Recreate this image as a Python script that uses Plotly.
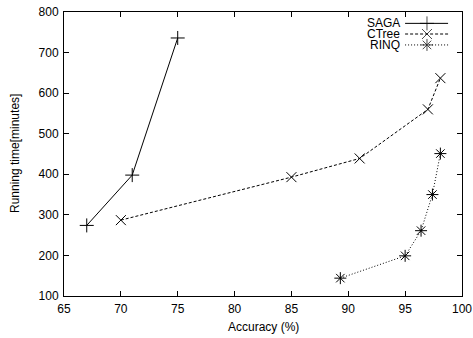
import plotly.graph_objects as go

# Data
saga_x = [67, 71, 75]
saga_y = [274, 398, 736]
ctree_x = [70, 85, 91, 97, 98.1]
ctree_y = [287, 393, 439, 560, 637]
rinq_x = [89.3, 95, 96.4, 97.4, 98.1]
rinq_y = [144, 199, 261, 350, 451]

series_names = ["SAGA", "CTree", "RINQ"]
x_ticks = [65, 70, 75, 80, 85, 90, 95, 100]
y_ticks = [100, 200, 300, 400, 500, 600, 700, 800]

FONT = "Liberation Sans, Arial, Helvetica, sans-serif"
FS = 12
styles = [
    dict(dash="solid", symbol="cross-thin", size=10),
    dict(dash="3px,2px", symbol="x-thin", size=10),
    dict(dash="1px,2px", symbol="asterisk", size=10),
]

fig = go.Figure()
for (xs, ys), name, st in zip([(saga_x, saga_y), (ctree_x, ctree_y), (rinq_x, rinq_y)], series_names, styles):
    fig.add_trace(go.Scatter(
        x=xs, y=ys, name=name, mode="lines+markers",
        line=dict(color="black", width=1, dash=st["dash"]),
        marker=dict(symbol=st["symbol"], size=st["size"], color="black",
                    line=dict(color="black", width=1)),
        showlegend=False,
    ))

# Gnuplot-style key: text on the left, sample on the right
key_y = [0.960, 0.9225, 0.884]
for name, st, ky in zip(series_names, styles, key_y):
    fig.add_trace(go.Scatter(
        x=[0.857, 0.912, 0.965], y=[ky, ky, ky], xaxis="x2", yaxis="y2",
        mode="lines+markers", showlegend=False, hoverinfo="skip",
        line=dict(color="black", width=1, dash=st["dash"]),
        marker=dict(symbol=st["symbol"], size=[0, st["size"], 0], color="black",
                    line=dict(color="black", width=1)),
    ))
    fig.add_annotation(x=0.849, y=ky, xref="x2", yref="y2", text=name,
                       showarrow=False, xanchor="right", yanchor="middle",
                       font=dict(family=FONT, size=FS, color="black"))

# Axis titles
fig.add_annotation(x=0.5, y=0, xref="paper", yref="paper", yshift=-31,
                   text="Accuracy (%)", showarrow=False, xanchor="center", yanchor="middle",
                   font=dict(family=FONT, size=FS, color="black"))
fig.add_annotation(x=0, y=0.5, xref="paper", yref="paper", xshift=-49,
                   text="Running time[minutes]", textangle=-90, showarrow=False,
                   xanchor="center", yanchor="middle",
                   font=dict(family=FONT, size=FS, color="black"))

axis_common = dict(
    showline=True, linecolor="black", linewidth=1, mirror="ticks",
    ticks="inside", ticklen=5, tickcolor="black", tickwidth=1,
    showgrid=False, zeroline=False, automargin=False, ticklabeloverflow="allow",
    tickfont=dict(family=FONT, size=FS, color="black"),
)

fig.update_layout(
    width=473, height=338,
    margin=dict(l=64, r=11, t=12, b=42),
    paper_bgcolor="white", plot_bgcolor="white",
    font=dict(family=FONT, size=FS, color="black"),
    hovermode=False,
    xaxis=dict(range=[65, 100], tickvals=x_ticks, ticklabelstandoff=2, **axis_common),
    yaxis=dict(range=[100, 800], tickvals=y_ticks, ticklabelstandoff=2, **axis_common),
    xaxis2=dict(range=[0, 1], overlaying="x", visible=False, fixedrange=True),
    yaxis2=dict(range=[0, 1], overlaying="y", visible=False, fixedrange=True),
)

fig.write_html("out.html",
               config={"displayModeBar": False, "staticPlot": True},
               post_script="document.body.style.margin='0';document.body.style.overflow='hidden';")
